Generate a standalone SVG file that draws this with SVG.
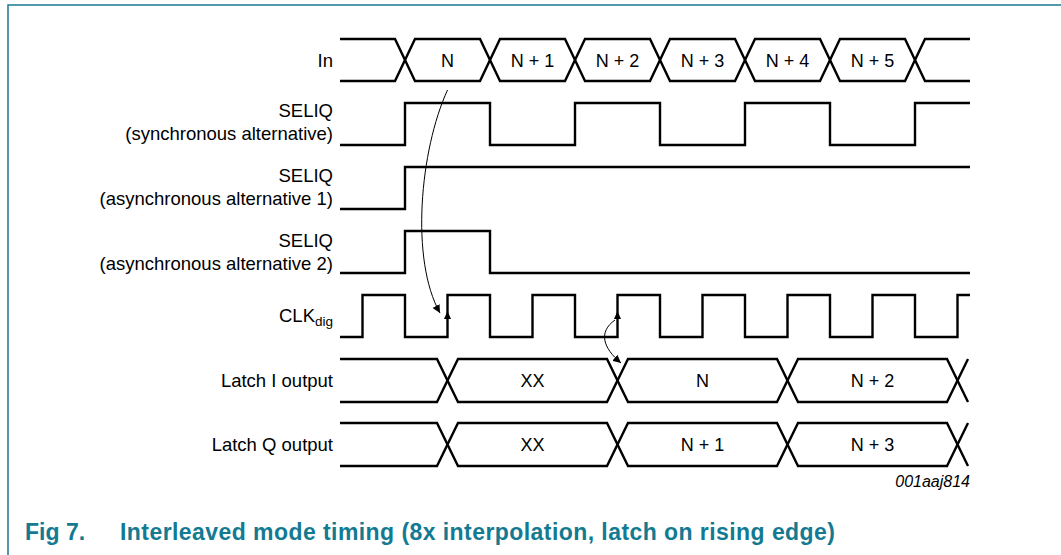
<svg xmlns="http://www.w3.org/2000/svg" width="1061" height="555" viewBox="0 0 1061 555">
<style>
.sig{fill:none;stroke:#000;stroke-width:2.4;stroke-linejoin:miter}
.lbl{font-family:"Liberation Sans",Arial,sans-serif;font-size:18.5px;fill:#000}
.val{font-family:"Liberation Sans",Arial,sans-serif;font-size:18px;fill:#000;text-anchor:middle}
.end{text-anchor:end}
.conn{fill:none;stroke:#000;stroke-width:1}
.frame{fill:none;stroke:#1a7890;stroke-width:1.5}
.cap{font-family:"Liberation Sans",Arial,sans-serif;font-size:23px;font-weight:bold;fill:#137a92}
</style>
<defs>
<marker id="ah" markerUnits="userSpaceOnUse" markerWidth="10" markerHeight="8" refX="8" refY="4" orient="auto">
<path d="M0,0 L8,4 L0,8 Z" fill="#000"/>
</marker>
</defs>
<g id="frame">
<path class="frame" d="M1061,5 H8 V555"/>
</g>
<g id="sig-in">
<text class="lbl end" x="333" y="66.5">In</text>
<path class="sig" d="M340,39 L395,39 L415,81 L480,81 L500,39 L565,39 L585,81 L650,81 L670,39 L735,39 L755,81 L820,81 L840,39 L905,39 L925,81 L970,81"/>
<path class="sig" d="M340,81 L395,81 L415,39 L480,39 L500,81 L565,81 L585,39 L650,39 L670,81 L735,81 L755,39 L820,39 L840,81 L905,81 L925,39 L970,39"/>
<text class="val" x="447.5" y="66.5">N</text>
<text class="val" x="532.5" y="66.5">N + 1</text>
<text class="val" x="617.5" y="66.5">N + 2</text>
<text class="val" x="702.5" y="66.5">N + 3</text>
<text class="val" x="787.5" y="66.5">N + 4</text>
<text class="val" x="872.5" y="66.5">N + 5</text>
</g>
<g id="sig-seliq-sync">
<text class="lbl end" x="333" y="117">SELIQ</text>
<text class="lbl end" x="333" y="140">(synchronous alternative)</text>
<path class="sig" d="M340,145 H405 V103 H490 V145 H575 V103 H660 V145 H745 V103 H830 V145 H915 V103 H970"/>
</g>
<g id="sig-seliq-async1">
<text class="lbl end" x="333" y="181.5">SELIQ</text>
<text class="lbl end" x="333" y="204.5">(asynchronous alternative 1)</text>
<path class="sig" d="M340,209 H405 V167 H970"/>
</g>
<g id="sig-seliq-async2">
<text class="lbl end" x="333" y="246.5">SELIQ</text>
<text class="lbl end" x="333" y="269.5">(asynchronous alternative 2)</text>
<path class="sig" d="M340,273 H405 V231 H490 V273 H970"/>
</g>
<g id="sig-clk">
<text class="lbl end" x="333" y="321.5">CLK<tspan font-size="13.5" dy="4">dig</tspan></text>
<path class="sig" d="M340,337 H362.5 V295 H405 V337 H447.5 V295 H490 V337 H532.5 V295 H575 V337 H617.5 V295 H660 V337 H702.5 V295 H745 V337 H787.5 V295 H830 V337 H872.5 V295 H915 V337 H957.5 V295 H970"/>
<polygon points="447.5,311 444,319 451,319" fill="#000"/>
<polygon points="617.5,311 614,319 621,319" fill="#000"/>
</g>
<g id="sig-latch-i">
<text class="lbl end" x="333" y="387">Latch I output</text>
<path class="sig" d="M340,359 L437,359 L458,402 L607,402 L628,359 L777,359 L798,402 L947,402 L968,359"/>
<path class="sig" d="M340,402 L437,402 L458,359 L607,359 L628,402 L777,402 L798,359 L947,359 L968,402"/>
<text class="val" x="532.5" y="387">XX</text>
<text class="val" x="702.5" y="387">N</text>
<text class="val" x="872.5" y="387">N + 2</text>
</g>
<g id="sig-latch-q">
<text class="lbl end" x="333" y="451">Latch Q output</text>
<path class="sig" d="M340,423 L437,423 L458,466 L607,466 L628,423 L777,423 L798,466 L947,466 L968,423"/>
<path class="sig" d="M340,466 L437,466 L458,423 L607,423 L628,466 L777,466 L798,423 L947,423 L968,466"/>
<text class="val" x="532.5" y="451">XX</text>
<text class="val" x="702.5" y="451">N + 1</text>
<text class="val" x="872.5" y="451">N + 3</text>
</g>
<g id="connectors">
<path class="conn" d="M447.5,90 C420,150 410,260 440,313" marker-end="url(#ah)"/>
<path class="conn" d="M615,320 C598,332 603,348 621,363" marker-end="url(#ah)"/>
</g>
<g id="figure-id">
<text x="970" y="486.5" text-anchor="end" font-family="Liberation Sans, Arial, sans-serif" font-size="16" font-style="italic" fill="#000">001aaj814</text>
</g>
<g id="caption">
<text class="cap" x="25" y="540">Fig 7.</text>
<text class="cap" x="120" y="540" textLength="715" lengthAdjust="spacing">Interleaved mode timing (8x interpolation, latch on rising edge)</text>
</g>
</svg>
